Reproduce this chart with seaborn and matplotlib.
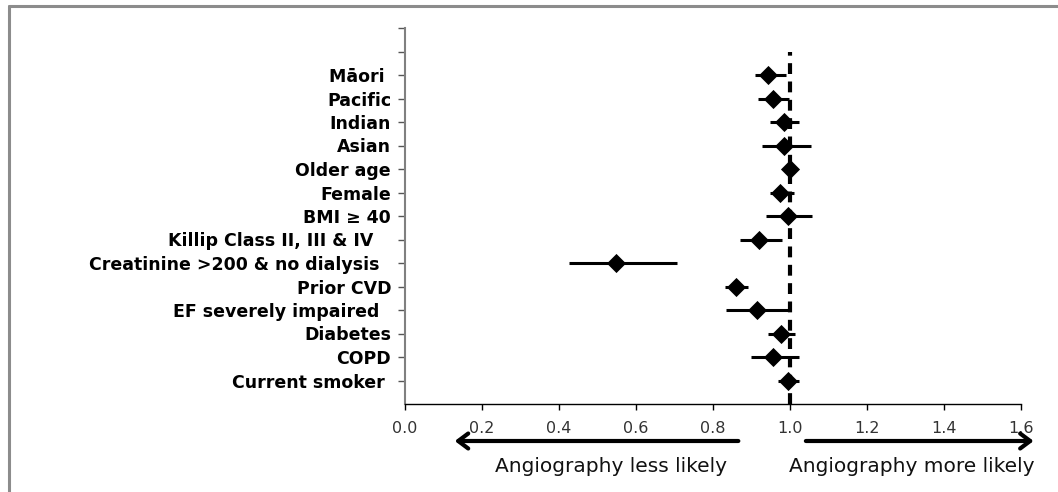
import matplotlib
matplotlib.use("Agg")
import matplotlib.pyplot as plt
import seaborn as sns
import pandas as pd
from matplotlib.lines import Line2D

# ---- data ----
categories = ["Māori ", "Pacific", "Indian", "Asian", "Older age", "Female", "BMI ≥ 40",
              "Killip Class II, III & IV   ", "Creatinine >200 & no dialysis  ", "Prior CVD",
              "EF severely impaired  ", "Diabetes", "COPD", "Current smoker "]
estimate = [0.943, 0.957, 0.985, 0.985, 1.000, 0.974, 0.994, 0.919, 0.548, 0.861, 0.915, 0.976, 0.957, 0.994]
ci_low   = [0.909, 0.918, 0.948, 0.926, 0.990, 0.948, 0.938, 0.870, 0.427, 0.831, 0.833, 0.944, 0.898, 0.968]
ci_high  = [0.990, 0.997, 1.024, 1.055, 1.010, 1.010, 1.058, 0.978, 0.706, 0.892, 1.003, 1.013, 1.023, 1.023]
x_ticks = [0.0, 0.2, 0.4, 0.6, 0.8, 1.0, 1.2, 1.4, 1.6]
x_tick_labels = ["0.0", "0.2", "0.4", "0.6", "0.8", "1.0", "1.2", "1.4", "1.6"]
ref_value = 1.0
less_label = "Angiography less likely"
more_label = "Angiography more likely"

n = len(categories)
pos = list(range(n, 0, -1))  # top category at highest position
df = pd.DataFrame({"cat": categories, "est": estimate, "lo": ci_low, "hi": ci_high, "pos": pos})

sns.set_theme(style="white")
plt.rcParams["font.family"] = ["DejaVu Sans"]

fig = plt.figure(figsize=(10.58, 4.92), dpi=100)
ax = fig.add_axes([405 / 1058, 1 - 404 / 492, (1021 - 405) / 1058, (404 - 28) / 492])

# reference dashed line
ax.plot([ref_value, ref_value], [0, n + 1], color="black", lw=3, ls=(0, (2.6, 1.8)), zorder=1)

# CI lines
ax.hlines(df["pos"], df["lo"], df["hi"], color="black", lw=2.2, zorder=2)
# point estimates
sns.scatterplot(data=df, x="est", y="pos", marker="D", s=95, color="black",
                edgecolor="black", linewidth=0, ax=ax, zorder=3, legend=False)

ax.set_xlim(0, 1.6)
ax.set_ylim(0, n + 2)
ax.set_xticks(x_ticks)
ax.set_xticklabels(x_tick_labels, fontsize=11.5, color="#333333")
ytick_pos = list(range(1, n + 3))
ytick_labels = [categories[n - p] if p <= n else "" for p in ytick_pos]
ax.set_yticks(ytick_pos)
ax.set_yticklabels(ytick_labels, fontsize=12.5, fontweight="bold", color="black")
ax.set_xlabel("")
ax.set_ylabel("")

# hide tick marks for Pacific and Prior CVD (as in reference)
for p, t in zip(ytick_pos, ax.yaxis.get_major_ticks()):
    if p <= n and categories[n - p] in ("Pacific", "Prior CVD"):
        t.tick1line.set_visible(False)

ax.tick_params(axis="y", left=True, length=5, width=1, color="#555555", pad=5)
ax.tick_params(axis="x", bottom=True, length=4, width=1, color="black", pad=8)

for s in ["top", "right"]:
    ax.spines[s].set_visible(False)
ax.spines["left"].set_color("#808080")
ax.spines["left"].set_linewidth(1.5)
ax.spines["bottom"].set_color("black")
ax.spines["bottom"].set_linewidth(1.0)

# direction arrows below the axis
arrow_y = 1 - 441 / 492
text_y = 1 - 467 / 492
ax.annotate("", xy=(0.122, arrow_y), xytext=(0.873, arrow_y),
            xycoords=("data", "figure fraction"), textcoords=("data", "figure fraction"),
            arrowprops=dict(arrowstyle="->,head_length=0.6,head_width=0.45", lw=3, color="black"),
            annotation_clip=False)
ax.annotate("", xy=(1.64, arrow_y), xytext=(1.034, arrow_y),
            xycoords=("data", "figure fraction"), textcoords=("data", "figure fraction"),
            arrowprops=dict(arrowstyle="->,head_length=0.6,head_width=0.45", lw=3, color="black"),
            annotation_clip=False)
fig.text(611 / 1058, text_y, less_label, ha="center", va="center", fontsize=14.5, color="#111111")
fig.text(912 / 1058, text_y, more_label, ha="center", va="center", fontsize=14.5, color="#111111")

# outer frame (top & left visible)
fig.add_artist(Line2D([9 / 1058, 1.0], [1 - 6 / 492, 1 - 6 / 492], color="#8c8c8c", lw=2.2,
                      transform=fig.transFigure))
fig.add_artist(Line2D([9 / 1058, 9 / 1058], [0, 1 - 6 / 492], color="#8c8c8c", lw=2.2,
                      transform=fig.transFigure))

fig.savefig("out.png", dpi=100)
